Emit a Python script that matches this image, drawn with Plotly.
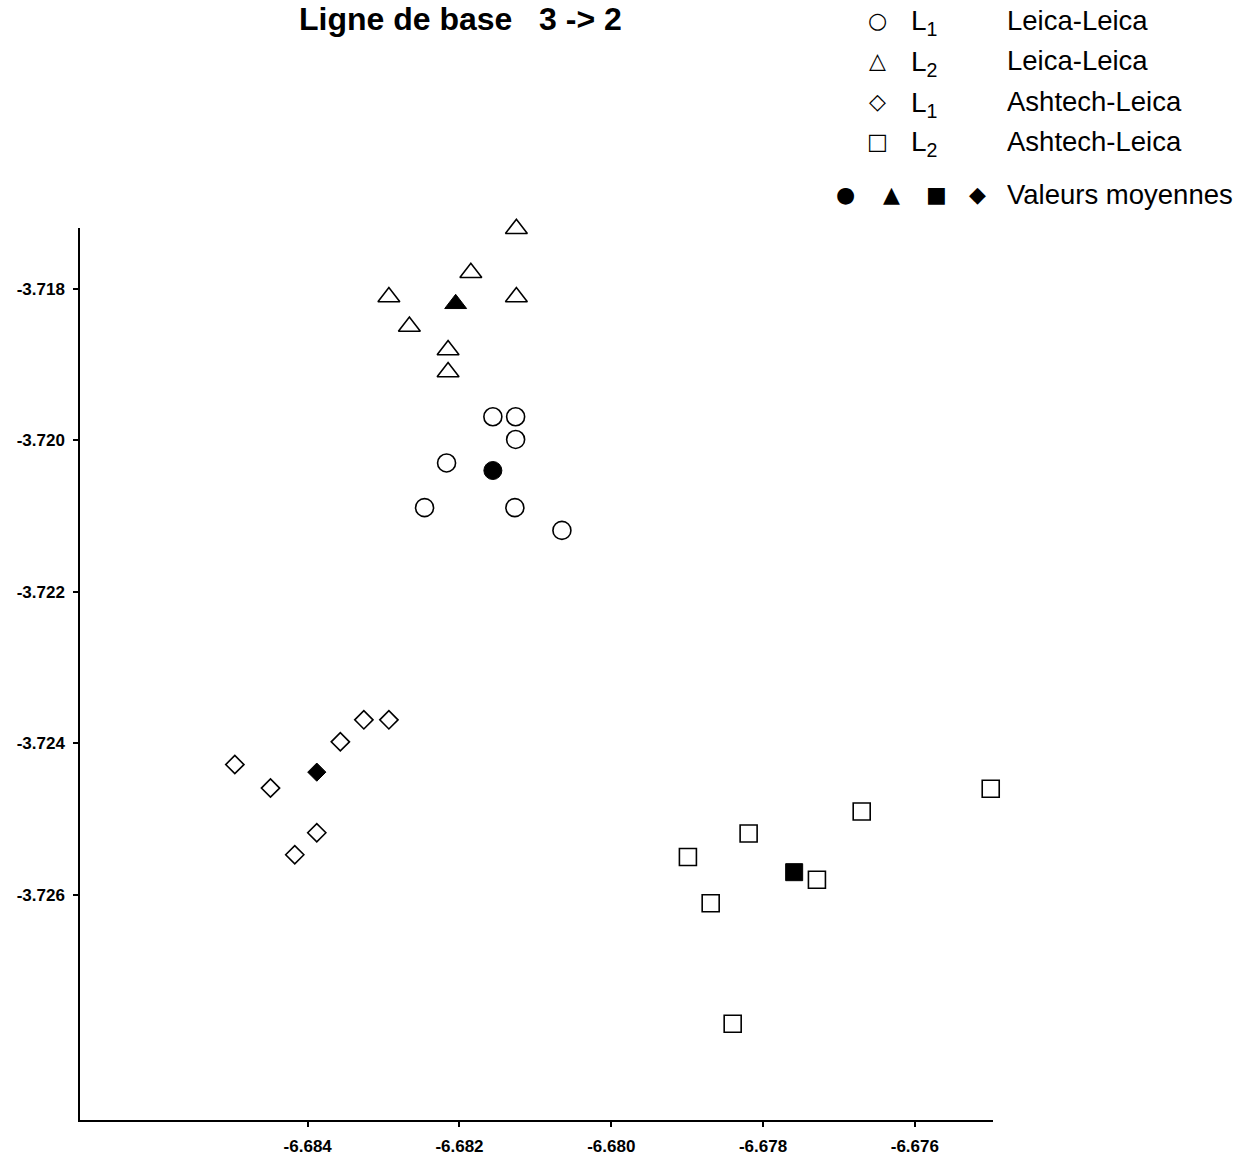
import plotly.graph_objects as go

# --- data ---
l1_leica_x = [-6.68156, -6.68126, -6.68126, -6.68217, -6.68246, -6.68127, -6.68065]
l1_leica_y = [-3.71969, -3.71969, -3.71999, -3.72030, -3.72089, -3.72089, -3.72119]
l2_leica_x = [-6.68125, -6.68185, -6.68293, -6.68125, -6.68266, -6.68215, -6.68215]
l2_leica_y = [-3.71721, -3.71779, -3.71811, -3.71811, -3.71850, -3.71881, -3.71910]
l1_ash_x = [-6.68496, -6.68449, -6.68417, -6.68388, -6.68357, -6.68326, -6.68293]
l1_ash_y = [-3.72428, -3.72459, -3.72547, -3.72518, -3.72398, -3.72369, -3.72369]
l2_ash_x = [-6.67500, -6.67670, -6.67819, -6.67899, -6.67729, -6.67869, -6.67840]
l2_ash_y = [-3.72460, -3.72490, -3.72519, -3.72550, -3.72580, -3.72611, -3.72770]
mean_x = [-6.68156, -6.68205, -6.67759, -6.68388]
mean_y = [-3.72040, -3.71820, -3.72570, -3.72438]
mean_symbols = ["circle", "triangle-up", "square", "diamond"]

x_ticks = [-6.684, -6.682, -6.680, -6.678, -6.676]
y_ticks = [-3.718, -3.720, -3.722, -3.724, -3.726]

title_text = "Ligne de base   3 -> 2"
legend_rows = [("○", "L<sub>1</sub>", "Leica-Leica"),
               ("△", "L<sub>2</sub>", "Leica-Leica"),
               ("◇", "L<sub>1</sub>", "Ashtech-Leica"),
               ("□", "L<sub>2</sub>", "Ashtech-Leica")]
mean_legend_symbols = ["●", "▲", "■", "◆"]
mean_legend_text = "Valeurs moyennes"

FONT = "Liberation Sans, Arial, sans-serif"

fig = go.Figure()

def open_trace(xs, ys, sym, size):
    fig.add_trace(go.Scatter(
        x=xs, y=ys, mode="markers", cliponaxis=False,
        marker=dict(symbol=sym, size=size, color="white", opacity=1,
                    line=dict(color="black", width=1.6)),
        showlegend=False, hoverinfo="x+y"))

open_trace(l1_leica_x, l1_leica_y, "circle", 18)
open_trace(l2_leica_x, l2_leica_y, "triangle-up", 19)
open_trace(l1_ash_x, l1_ash_y, "diamond", 14)
open_trace(l2_ash_x, l2_ash_y, "square", 17)

fig.add_trace(go.Scatter(
    x=mean_x, y=mean_y, mode="markers", cliponaxis=False,
    marker=dict(symbol=mean_symbols, size=[18, 19, 17, 14], color="black", opacity=1,
                line=dict(color="black", width=1)),
    showlegend=False))

axis_common = dict(showgrid=False, zeroline=False, showline=True,
                   linecolor="black", linewidth=1.5, ticks="outside",
                   ticklen=5, tickwidth=1.5, tickcolor="black",
                   ticklabelstandoff=5, automargin=False,
                   tickfont=dict(family=FONT, size=17, color="black", weight="bold"),
                   mirror=False)

fig.update_xaxes(range=[-6.6870, -6.67497], tickvals=x_ticks,
                 ticktext=[f"{v:.3f}" for v in x_ticks], **axis_common)
fig.update_yaxes(range=[-3.72897, -3.71720], tickvals=y_ticks,
                 ticktext=[f"{v:.3f}" for v in y_ticks], **axis_common)

W, H = 1260, 1160
ml, mr, mt, mb = 80, 267, 228, 40
pw, ph = W - ml - mr, H - mt - mb

def px(xp):
    return (xp - ml) / pw

def py(yp):
    return 1 - (yp - mt) / ph

annotations = []
annotations.append(dict(text=f"<b>{title_text}</b>", x=px(460), y=py(19),
                        xref="paper", yref="paper", showarrow=False,
                        xanchor="center", yanchor="middle",
                        font=dict(family=FONT, size=32, color="black")))
row_y = [20, 61, 101, 141]
for (sym, lab, txt), yy in zip(legend_rows, row_y):
    annotations.append(dict(text=sym, x=px(877), y=py(yy), xref="paper", yref="paper",
                            showarrow=False, xanchor="center", yanchor="middle",
                            font=dict(family="DejaVu Sans", size=22, color="black")))
    annotations.append(dict(text=lab, x=px(909), y=py(yy + 3), xref="paper", yref="paper",
                            showarrow=False, xanchor="left", yanchor="middle",
                            font=dict(family=FONT, size=28, color="black")))
    annotations.append(dict(text=txt, x=px(1005), y=py(yy), xref="paper", yref="paper",
                            showarrow=False, xanchor="left", yanchor="middle",
                            font=dict(family=FONT, size=27.5, color="black")))
for sym, xx in zip(mean_legend_symbols, [845, 891, 936, 977]):
    annotations.append(dict(text=sym, x=px(xx), y=py(194), xref="paper", yref="paper",
                            showarrow=False, xanchor="center", yanchor="middle",
                            font=dict(family="DejaVu Sans", size=22, color="black")))
annotations.append(dict(text=mean_legend_text, x=px(1005), y=py(194), xref="paper",
                        yref="paper", showarrow=False, xanchor="left", yanchor="middle",
                        font=dict(family=FONT, size=27.5, color="black")))

fig.update_layout(width=W, height=H, margin=dict(l=ml, r=mr, t=mt, b=mb),
                  plot_bgcolor="white", paper_bgcolor="white",
                  annotations=annotations, showlegend=False)

fig.write_html("out.html")
